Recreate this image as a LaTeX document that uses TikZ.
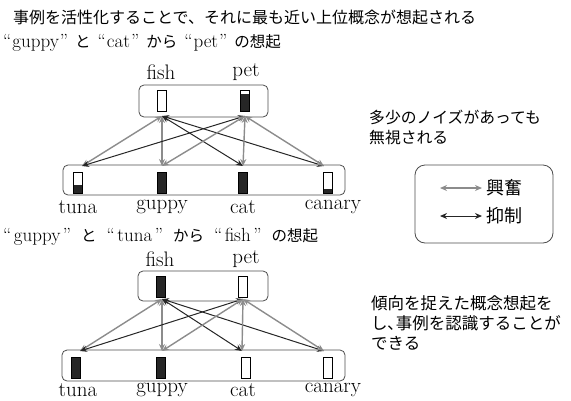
\documentclass[tikz,border=0pt]{standalone}
\usepackage{fontspec}
\newfontfamily\jp{Noto Sans CJK JP}
\usetikzlibrary{arrows.meta}
\newcommand\actbar[3]{%
  \fill[black!85] ({#1-4.5},{#2+21}) rectangle ({#1+4.5},{#2+21-21*#3});
  \draw[line width=0.9pt] ({#1-4.5},#2) rectangle ({#1+4.5},{#2+21});}
\newcommand\qtword[2]{“\hspace{#1}#2\hspace{#1}”}
\newcommand\jw[1]{{\jp\fontsize{15.5}{20}\selectfont #1}}
\tikzset{
  lbl/.style={inner sep=0pt, font=\fontsize{21}{24}\selectfont},
  grp/.style={draw=black!70, line width=0.8pt, rounded corners=5pt},
  exc/.style={draw=black!45, line width=1.4pt, {Stealth[length=7pt,width=6pt]}-{Stealth[length=7pt,width=6pt]}},
  inh/.style={draw=black!85, line width=1pt, {Stealth[length=7pt,width=6pt]}-{Stealth[length=7pt,width=6pt]}},
  jtxt/.style={anchor=west, inner sep=0pt, font=\jp\fontsize{15.5}{20}\selectfont, align=left},
  head/.style={anchor=west, inner sep=0pt, font=\fontsize{19}{22}\selectfont}
}
\begin{document}
\begin{tikzpicture}[x=1pt,y=-1pt]
\useasboundingbox (0,0) rectangle (571,400);

% headings
\node[jtxt, font=\jp\fontsize{16}{20}\selectfont] (title) at (13,17) {事例を活性化することで、それに最も近い上位概念が想起される};
\node[head] (h1) at (3,43) {\qtword{1pt}{guppy}\hspace{7pt}\jw{と}\hspace{7pt}\qtword{1pt}{cat}\hspace{7pt}\jw{から}\hspace{7pt}\qtword{1pt}{pet}\hspace{7pt}\jw{の想起}};
\node[head] (h2) at (3,237) {\qtword{2.5pt}{guppy}\hspace{10pt}\jw{と}\hspace{10pt}\qtword{2.5pt}{tuna}\hspace{10pt}\jw{から}\hspace{10pt}\qtword{2.5pt}{fish}\hspace{10pt}\jw{の想起}};

% ---------- upper panel ----------
\draw[grp] (139,85) rectangle (268,117);
\draw[grp] (63,165) rectangle (345,195);
\actbar{162}{90}{0}
\actbar{245}{90}{0.82}
\actbar{78}{172}{0.4}
\actbar{162}{172}{1}
\actbar{243}{172}{1}
\actbar{328}{172}{0.2}
\node[lbl] (fishA) at (161,72) {fish};
\node[lbl] (petA) at (246,72) {pet};
\node[lbl] (tunaA) at (78,207) {tuna};
\node[lbl] (guppyA) at (162,207) {guppy};
\node[lbl] (catA) at (243,207) {cat};
\node[lbl] (canaryA) at (333,207) {canary};
\coordinate (fA) at (162,116);
\coordinate (pA) at (245,116);
\coordinate (tA) at (82,166);
\coordinate (gA) at (162,166);
\coordinate (cA) at (243,166);
\coordinate (kA) at (324,166);
\draw[exc] (fA) -- (tA);
\draw[exc] (fA) -- (gA);
\draw[inh] (fA) -- (cA);
\draw[inh] (fA) -- (kA);
\draw[inh] (pA) -- (tA);
\draw[exc] (pA) -- (gA);
\draw[exc] (pA) -- (cA);
\draw[exc] (pA) -- (kA);

% ---------- lower panel ----------
\draw[grp] (138,271) rectangle (268,301);
\draw[grp] (62,350) rectangle (345,381);
\actbar{161}{276}{1}
\actbar{243}{276}{0}
\actbar{76}{357}{1}
\actbar{161}{357}{1}
\actbar{246}{357}{0}
\actbar{328}{357}{0}
\node[lbl] (fishB) at (160,259) {fish};
\node[lbl] (petB) at (246,259) {pet};
\node[lbl] (tunaB) at (78,390) {tuna};
\node[lbl] (guppyB) at (162,390) {guppy};
\node[lbl] (catB) at (243,390) {cat};
\node[lbl] (canaryB) at (333,390) {canary};
\coordinate (fB) at (162,299);
\coordinate (pB) at (243,299);
\coordinate (tB) at (80,351);
\coordinate (gB) at (162,351);
\coordinate (cB) at (242,351);
\coordinate (kB) at (324,351);
\draw[exc] (fB) -- (tB);
\draw[exc] (fB) -- (gB);
\draw[inh] (fB) -- (cB);
\draw[inh] (fB) -- (kB);
\draw[inh] (pB) -- (tB);
\draw[exc] (pB) -- (gB);
\draw[exc] (pB) -- (cB);
\draw[exc] (pB) -- (kB);

% ---------- right side ----------
\node[jtxt, font=\jp\fontsize{15.8}{20}\selectfont] (note1) at (369,127) {多少のノイズがあっても\\無視される};
\draw[grp, rounded corners=10pt] (415,165) rectangle (553,243);
\coordinate (le1) at (440,188);
\coordinate (le2) at (482,188);
\coordinate (li1) at (440,216);
\coordinate (li2) at (482,216);
\draw[exc] (le1) -- (le2);
\draw[inh] (li1) -- (li2);
\node[jtxt, font=\jp\fontsize{18}{20}\selectfont] (lexc) at (486,188) {興奮};
\node[jtxt, font=\jp\fontsize{18}{20}\selectfont] (linh) at (486,216) {抑制};
\node[jtxt, font=\jp\fontsize{16.5}{20}\selectfont] (note2) at (371,323) {傾向を捉えた概念想起を\\し､事例を認識することが\\できる};
\end{tikzpicture}
\end{document}
